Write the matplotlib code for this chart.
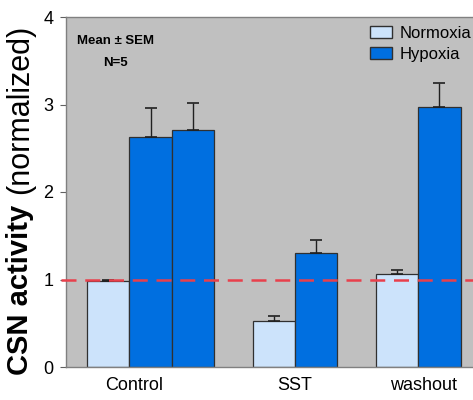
import numpy as np
import matplotlib
matplotlib.use('Agg')
import matplotlib.pyplot as plt
from matplotlib.patches import Patch

plt.rcParams['font.family'] = ['Liberation Sans', 'DejaVu Sans']

# ── data ──────────────────────────────────────────────────────────────
categories = ['Control', 'SST', 'washout']
bar_group  = ['Control', 'Control', 'Control', 'SST', 'SST', 'washout', 'washout']
bar_cond   = ['Normoxia', 'Hypoxia', 'Hypoxia', 'Normoxia', 'Hypoxia', 'Normoxia', 'Hypoxia']
bar_vals   = [0.98, 2.63, 2.71, 0.53, 1.30, 1.06, 2.97]
bar_errs   = [0.01, 0.33, 0.31, 0.05, 0.15, 0.05, 0.28]

# ── layout (bar units: one bar = 1.0) ─────────────────────────────────
bar_left   = [0.5, 1.5, 2.5, 4.42, 5.42, 7.33, 8.33]
label_pos  = {'Control': 1.6, 'SST': 5.4, 'washout': 8.45}
colors     = {'Normoxia': '#cce3fb', 'Hypoxia': '#006fe0'}

fig = plt.figure(figsize=(4.73, 4.0), dpi=100)
ax = fig.add_axes([0.1395, 0.0825, 0.894, 0.875])
ax.set_facecolor('#c0c0c0')

x = np.array(bar_left) + 0.5
ax.bar(x, bar_vals, width=1.0, color=[colors[c] for c in bar_cond],
       edgecolor='#303030', linewidth=0.9, zorder=2)
ax.errorbar(x, bar_vals, yerr=[np.zeros(len(bar_errs)), bar_errs], fmt='none',
            ecolor='#202020', elinewidth=1.0, capsize=4, capthick=1.2, zorder=3)

# reference line at 1
ax.axhline(1.0, xmin=-0.012, color='#e8404c', linestyle=(0, (6, 3.5)),
           linewidth=1.8, clip_on=False, zorder=4)

ax.set_xlim(0, 10)
ax.set_ylim(0, 4)
ax.set_yticks([0, 1, 2, 3, 4])
ax.set_xticks([label_pos[c] for c in categories])
ax.set_xticklabels(categories, fontsize=13)
ax.tick_params(axis='x', length=0, pad=7)
ax.tick_params(axis='y', labelsize=13, length=4, color='#606060', pad=5)
for s in ['left', 'bottom', 'top']:
    ax.spines[s].set_color('#808080')
    ax.spines[s].set_linewidth(1.0)
ax.spines['right'].set_visible(False)

# legend
handles = [Patch(facecolor=colors[c], edgecolor='#303030', label=c)
           for c in ['Normoxia', 'Hypoxia']]
ax.legend(handles=handles, loc='upper left', bbox_to_anchor=(0.719, 0.975),
          frameon=False, fontsize=12, handlelength=1.3, handleheight=0.7,
          handletextpad=0.45, labelspacing=0.35, borderaxespad=0, borderpad=0)

ax.text(0.116, 0.931, 'Mean \u00b1 SEM', transform=ax.transAxes, fontsize=9.5,
        fontweight='bold', ha='center', va='center')
ax.text(0.116, 0.869, 'N=5', transform=ax.transAxes, fontsize=9.5,
        fontweight='bold', ha='center', va='center')

# y label: bold part + normal part
fig.text(0.042, 0.062, 'CSN activity', rotation=90, fontsize=21,
         fontweight='bold', ha='center', va='bottom')
fig.text(0.042, 0.515, '(normalized)', rotation=90, fontsize=22,
         ha='center', va='bottom')

fig.savefig('out.png', dpi=100)
